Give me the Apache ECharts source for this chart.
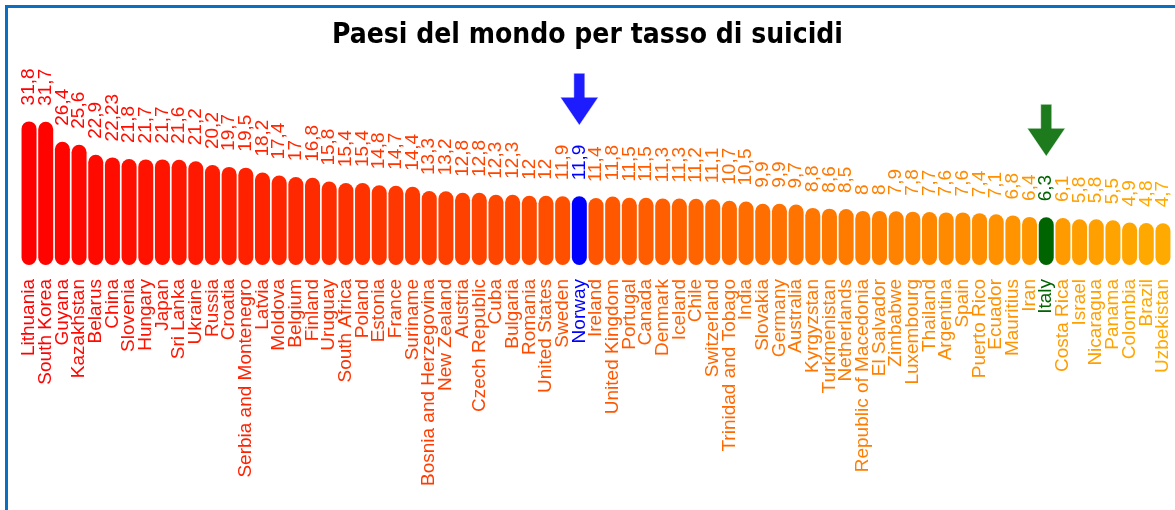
<!DOCTYPE html>
<html>
<head>
<meta charset="utf-8">
<title>Paesi del mondo per tasso di suicidi</title>
<script src="https://cdn.jsdelivr.net/npm/echarts@6/dist/echarts.min.js"></script>
<style>
    html,body{margin:0;padding:0;background:#fff;}
    #chart{width:1175px;height:510px;}
</style>
</head>
<body>
<div id="chart"></div>
<script>
// tasso di suicidi per 100.000 abitanti
const countries = ['Lithuania','South Korea','Guyana','Kazakhstan','Belarus','China','Slovenia','Hungary','Japan','Sri Lanka',
    'Ukraine','Russia','Croatia','Serbia and Montenegro','Latvia','Moldova','Belgium','Finland','Uruguay','South Africa',
    'Poland','Estonia','France','Suriname','Bosnia and Herzegovina','New Zealand','Austria','Czech Republic','Cuba','Bulgaria',
    'Romania','United States','Sweden','Norway','Ireland','United Kingdom','Portugal','Canada','Denmark','Iceland',
    'Chile','Switzerland','Trinidad and Tobago','India','Slovakia','Germany','Australia','Kyrgyzstan','Turkmenistan','Netherlands',
    'Republic of Macedonia','El Salvador','Zimbabwe','Luxembourg','Thailand','Argentina','Spain','Puerto Rico','Ecuador','Mauritius',
    'Iran','Italy','Costa Rica','Israel','Nicaragua','Panama','Colombia','Brazil','Uzbekistan'];
const rates = [31.8,31.7,26.4,25.6,22.9,22.23,21.8,21.7,21.7,21.6,
    21.2,20.2,19.7,19.5,18.2,17.4,17,16.8,15.8,15.4,
    15.4,14.8,14.7,14.4,13.3,13.2,12.8,12.8,12.3,12.3,
    12,12,11.9,11.9,11.4,11.8,11.5,11.5,11.3,11.3,
    11.2,11.1,10.7,10.5,9.9,9.9,9.7,8.8,8.6,8.5,
    8,8,7.9,7.8,7.7,7.6,7.6,7.4,7.1,6.8,
    6.4,6.3,6.1,5.8,5.8,5.5,4.9,4.8,4.7];
// paesi evidenziati con la freccia
const highlighted = ['Norway','Italy'];

const GRID_TOP = 60, GRID_BOTTOM = 245, Y_MAX = 54.5;
// piede arrotondato sotto la barra: 24px, allineato al pixel per non vedere la giunta
const BASE = 24 / ((510 - GRID_TOP - GRID_BOTTOM) / Y_MAX);
const highlightColors = {Norway:'#0000ff', Italy:'#006400'};
const arrowColors = {Norway:'#1c1cff', Italy:'#1d7a1d'};
const arrowOffsets = {Norway:-97, Italy:-87};
const arrowPath = 'path://M13.5,0 L24.5,0 L24.5,24 L38,24 L19,52 L0,24 L13.5,24 Z';

function barColor(i){
    const name = countries[i];
    if(highlightColors[name]) return highlightColors[name];
    const g = Math.round(170 * i / (countries.length - 1));
    return 'rgb(255,' + g + ',0)';
}

const fontFamily = "'Liberation Sans', Arial, sans-serif";

const option = {
    animation:false,
    title:{
        text:'Paesi del mondo per tasso di suicidi',
        left:'center',
        top:17,
        textStyle:{
            fontFamily:"'Liberation Sans Narrow', 'DejaVu Sans Condensed', sans-serif",
            fontWeight:'bold',
            fontSize:28,
            color:'#000'
        }
    },
    graphic:[
        {type:'rect', shape:{x:5, y:5, width:1170, height:3}, style:{fill:'#0b6fc1'}},
        {type:'rect', shape:{x:5, y:5, width:3, height:505}, style:{fill:'#0b6fc1'}}
    ],
    grid:{left:20.7, right:3.7, top:GRID_TOP, bottom:GRID_BOTTOM},
    xAxis:{
        type:'category',
        data:countries,
        axisLine:{show:false},
        axisTick:{show:false},
        axisLabel:{
            interval:0,
            rotate:90,
            margin:14,
            fontFamily:fontFamily,
            fontSize:19,
            color:function(value, index){
                return barColor(index);
            }
        }
    },
    yAxis:{
        type:'value',
        min:0,
        max:Y_MAX,
        show:false,
        splitLine:{show:false}
    },
    series:[
        {
            name:'base',
            type:'bar',
            stack:'tot',
            barWidth:15,
            silent:true,
            data:countries.map(()=>BASE),
            itemStyle:{
                borderRadius:[0,0,7.5,7.5],
                color:function(p){return barColor(p.dataIndex);}
            }
        },
        {
            name:'tasso',
            type:'bar',
            stack:'tot',
            barWidth:15,
            data:rates,
            itemStyle:{
                borderRadius:[7.5,7.5,0,0],
                color:function(p){return barColor(p.dataIndex);}
            },
            label:{
                show:true,
                position:'top',
                rotate:90,
                align:'left',
                verticalAlign:'middle',
                distance:16,
                fontFamily:fontFamily,
                fontSize:19,
                color:'inherit',
                formatter:function(p){
                    return String(p.value).replace('.', ',');
                }
            },
            markPoint:{
                silent:true,
                label:{show:false},
                data:highlighted.map(name=>{
                    const i = countries.indexOf(name);
                    return {
                        coord:[name, rates[i] + BASE],
                        symbol:arrowPath,
                        symbolSize:[38,52],
                        symbolOffset:[0, arrowOffsets[name]],
                        itemStyle:{color:arrowColors[name], borderColor:'#ffffff', borderWidth:0.5}
                    };
                })
            }
        }
    ]
};

const chart = echarts.init(document.getElementById('chart'), null, {renderer:'canvas'});
chart.setOption(option);
</script>
</body>
</html>
